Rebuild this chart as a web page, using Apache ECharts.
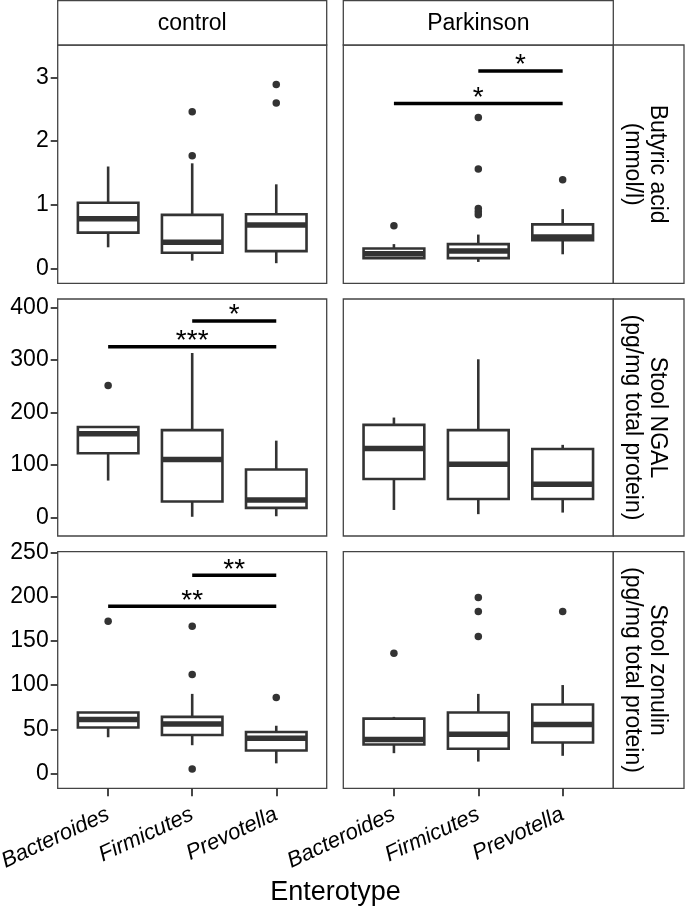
<!DOCTYPE html>
<html>
<head>
<meta charset="utf-8">
<script src="https://cdn.jsdelivr.net/npm/echarts@6/dist/echarts.min.js"></script>
<style>
html,body{margin:0;padding:0;background:#fff;}
#c{width:685px;height:910px;}
</style>
</head>
<body>
<div id="c"></div>
<script>
// ---------------- data ----------------
const categories = ['Bacteroides', 'Firmicutes', 'Prevotella'];
const groups = ['control', 'Parkinson'];
const measureLabels = ['Butyric acid\n(mmol/l)', 'Stool NGAL\n(pg/mg total protein)', 'Stool zonulin\n(pg/mg total protein)'];
const xTitle = 'Enterotype';
const yTickValues = [[0, 1, 2, 3], [0, 100, 200, 300, 400], [0, 50, 100, 150, 200, 250]];

// box stats: [lower whisker, Q1, median, Q3, upper whisker] per enterotype
const butyricControlBox = [[0.33, 0.56, 0.78, 1.03, 1.60], [0.12, 0.245, 0.41, 0.84, 1.65], [0.08, 0.27, 0.68, 0.85, 1.32]];
const butyricControlOut = [[], [1.77, 2.46], [2.60, 2.89]];
const butyricParkBox = [[0.15, 0.16, 0.23, 0.31, 0.38], [0.10, 0.16, 0.27, 0.38, 0.53], [0.22, 0.44, 0.49, 0.69, 0.93]];
const butyricParkOut = [[0.67], [0.84, 0.89, 0.94, 1.56, 2.37], [1.39]];

const ngalControlBox = [[70, 122, 159, 172, 173], [1, 30, 110, 166, 313], [2, 18, 33, 91, 146]];
const ngalControlOut = [[251], [], []];
const ngalParkBox = [[14, 73, 131, 176, 190], [6, 35, 101, 166, 301], [9, 35, 63, 130, 138]];
const ngalParkOut = [[], [], []];

const zonControlBox = [[41, 52, 61, 69, 69], [32, 43.5, 56, 64, 90], [11.5, 26, 40, 47, 54]];
const zonControlOut = [[172], [5, 112, 166.5], [86]];
const zonParkBox = [[23, 32.8, 38.5, 62, 64], [13.5, 28, 44.5, 69, 90], [20, 35, 55.5, 78, 100]];
const zonParkOut = [[136], [155, 183, 199], [183]];

// significance brackets: [from category index, to category index, y, label]
const butyricParkSig = [[2, 3, 3.10, '*'], [1, 3, 2.59, '*']];
const ngalControlSig = [[2, 3, 374, '*'], [1, 3, 325, '***']];
const zonControlSig = [[2, 3, 224, '**'], [1, 3, 189, '**']];

// ---------------- layout ----------------
const FONT = '"Liberation Sans", Arial, Helvetica, sans-serif';
const INK = '#333333';
const TXT = '#000000';
const colLeft = [57.7, 343.3];
const colWidth = [269, 270];
const rowTop = [45, 299, 551.7];
const rowHeight = [238.3, 237, 236.6];
const yRanges = [[-0.236, 3.51], [-35.6, 415.8], [-16.7, 250.7]];
const stripRight = 684;

const panels = [
  {row: 0, col: 0, box: butyricControlBox, out: butyricControlOut, sig: []},
  {row: 0, col: 1, box: butyricParkBox, out: butyricParkOut, sig: butyricParkSig},
  {row: 1, col: 0, box: ngalControlBox, out: ngalControlOut, sig: ngalControlSig},
  {row: 1, col: 1, box: ngalParkBox, out: ngalParkOut, sig: []},
  {row: 2, col: 0, box: zonControlBox, out: zonControlOut, sig: zonControlSig},
  {row: 2, col: 1, box: zonParkBox, out: zonParkOut, sig: []}
];

const grid = [], xAxis = [], yAxis = [], series = [];
const catPos = categories.map((c, i) => i + 1);

panels.forEach((p, i) => {
  grid.push({
    left: colLeft[p.col], top: rowTop[p.row], width: colWidth[p.col], height: rowHeight[p.row],
    show: true, borderColor: '#444', borderWidth: 1.3, backgroundColor: '#fff',
    containLabel: false, outerBoundsMode: 'none'
  });
  const bottom = p.row === 2;
  xAxis.push({
    type: 'value', gridIndex: i, min: 0.4, max: 3.6, position: 'bottom',
    splitLine: {show: false}, axisLine: {show: false, onZero: false},
    axisTick: {show: bottom, customValues: catPos, length: 8, lineStyle: {color: INK, width: 1.8}},
    axisLabel: {
      show: bottom, customValues: catPos, rotate: 25, margin: 25,
      formatter: v => categories[Math.round(v) - 1] || '',
      fontFamily: FONT, fontStyle: 'italic', fontSize: 22, color: TXT
    }
  });
  const left = p.col === 0;
  yAxis.push({
    type: 'value', gridIndex: i, min: yRanges[p.row][0], max: yRanges[p.row][1], position: 'left',
    splitLine: {show: false}, axisLine: {show: false, onZero: false},
    axisTick: {show: left, customValues: yTickValues[p.row], length: 7, lineStyle: {color: INK, width: 1.8}},
    axisLabel: {show: left, customValues: yTickValues[p.row], margin: 9, fontFamily: FONT, fontSize: 23, color: TXT}
  });

  // boxes
  series.push({
    type: 'custom', xAxisIndex: i, yAxisIndex: i,
    data: p.box.map((b, k) => [k + 1].concat(b)),
    renderItem: function (params, api) {
      const x = api.value(0);
      const hw = api.size([1, 0])[0] * 0.36;
      const pLow = api.coord([x, api.value(1)]);
      const pQ1 = api.coord([x, api.value(2)]);
      const pMed = api.coord([x, api.value(3)]);
      const pQ3 = api.coord([x, api.value(4)]);
      const pHigh = api.coord([x, api.value(5)]);
      const cx = pQ1[0];
      const ls = {stroke: INK, lineWidth: 2.6};
      return {
        type: 'group',
        children: [
          {type: 'line', shape: {x1: cx, y1: pLow[1], x2: cx, y2: pQ1[1]}, style: ls},
          {type: 'line', shape: {x1: cx, y1: pQ3[1], x2: cx, y2: pHigh[1]}, style: ls},
          {type: 'rect', shape: {x: cx - hw, y: pQ3[1], width: 2 * hw, height: pQ1[1] - pQ3[1]},
            style: {fill: '#fff', stroke: INK, lineWidth: 2.6}},
          {type: 'line', shape: {x1: cx - hw, y1: pMed[1], x2: cx + hw, y2: pMed[1]},
            style: {stroke: INK, lineWidth: 5.5}}
        ]
      };
    },
    silent: true, z: 2
  });

  // outliers
  const outData = [];
  p.out.forEach((arr, k) => arr.forEach(v => outData.push([k + 1, v])));
  series.push({
    type: 'scatter', xAxisIndex: i, yAxisIndex: i, data: outData,
    symbol: 'circle', symbolSize: 7.5, itemStyle: {color: INK, opacity: 1}, silent: true, z: 3
  });

  // significance brackets
  if (p.sig.length) {
    series.push({
      type: 'custom', xAxisIndex: i, yAxisIndex: i,
      data: p.sig.map(s => [s[0], s[1], s[2], s[3]]),
      renderItem: function (params, api) {
        const a = api.coord([api.value(0), api.value(2)]);
        const b = api.coord([api.value(1), api.value(2)]);
        const lbl = p.sig[params.dataIndex][3];
        return {
          type: 'group',
          children: [
            {type: 'line', shape: {x1: a[0], y1: a[1], x2: b[0], y2: b[1]}, style: {stroke: '#000', lineWidth: 3.5}},
            {type: 'text', x: (a[0] + b[0]) / 2, y: a[1] - 5.5,
              style: {text: lbl, fill: '#000', font: '28px ' + FONT, align: 'center', verticalAlign: 'middle'}}
          ]
        };
      },
      silent: true, z: 4
    });
  }
});

// strips and title
const graphic = [];
groups.forEach((g, c) => {
  graphic.push({
    type: 'rect', shape: {x: colLeft[c], y: 0.7, width: colWidth[c], height: rowTop[0] - 0.7},
    style: {fill: '#fff', stroke: '#444', lineWidth: 1.3}, z: 10
  });
  graphic.push({
    type: 'text', x: colLeft[c] + colWidth[c] / 2, y: 23.5,
    style: {text: g, font: '23px ' + FONT, fill: TXT, align: 'center', verticalAlign: 'middle'}, z: 11
  });
});
const stripLeft = colLeft[1] + colWidth[1];
measureLabels.forEach((m, r) => {
  graphic.push({
    type: 'rect', shape: {x: stripLeft, y: rowTop[r], width: stripRight - stripLeft, height: rowHeight[r]},
    style: {fill: '#fff', stroke: '#444', lineWidth: 1.3}, z: 10
  });
  graphic.push({
    type: 'text', x: 645, y: rowTop[r] + rowHeight[r] / 2, rotation: -Math.PI / 2,
    style: {text: m, font: '23px ' + FONT, lineHeight: 25, fill: TXT, align: 'center', verticalAlign: 'middle'}, z: 11
  });
});
graphic.push({
  type: 'text', x: (colLeft[0] + stripLeft) / 2, y: 893,
  style: {text: xTitle, font: '27px ' + FONT, fill: TXT, align: 'center', verticalAlign: 'middle'}, z: 11
});

const chart = echarts.init(document.getElementById('c'), null, {renderer: 'canvas'});
chart.setOption({
  animation: false,
  backgroundColor: '#fff',
  grid: grid, xAxis: xAxis, yAxis: yAxis, series: series, graphic: graphic
});
</script>
</body>
</html>
